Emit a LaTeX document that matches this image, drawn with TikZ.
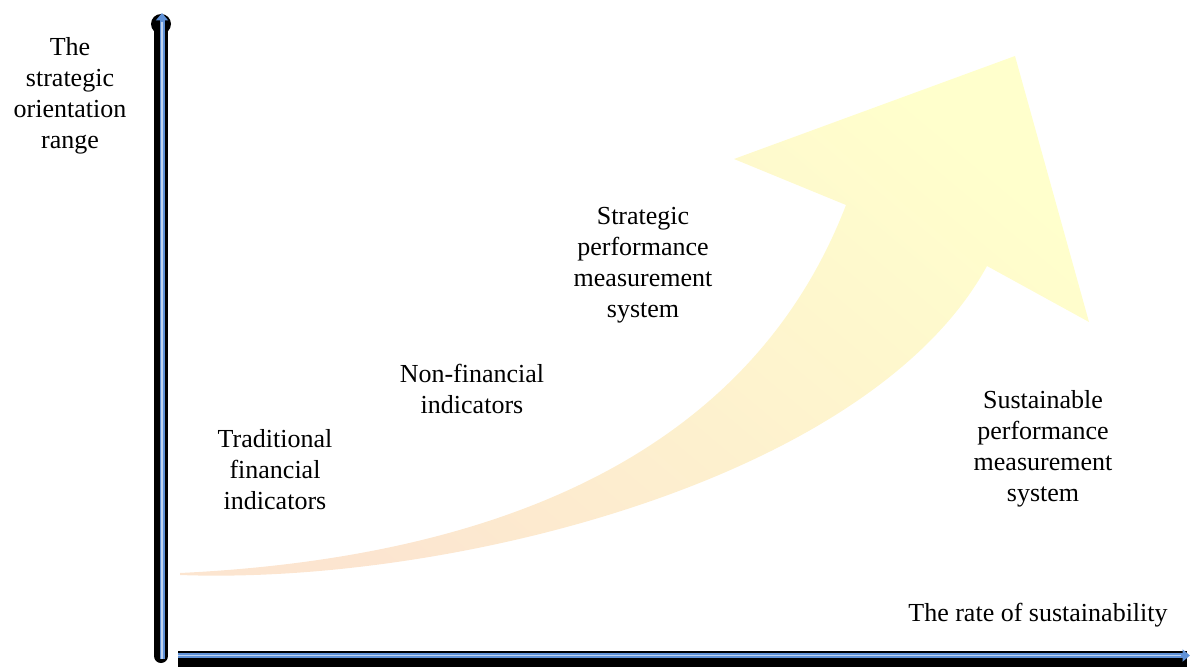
\documentclass[tikz,border=0pt]{standalone}
\usepackage{fontspec}
\setmainfont{Liberation Serif}
\usepackage{tikz}
\usetikzlibrary{arrows.meta}

\definecolor{peach}{RGB}{252,229,208}
\definecolor{paleyellow}{RGB}{255,255,204}
\definecolor{axisblue}{RGB}{95,145,215}

\begin{document}
\begin{tikzpicture}[x=0.02cm,y=-0.02cm,
  lbl/.style={align=center,inner sep=0pt,font=\fontsize{14.8}{17.6}\selectfont},
  shadowline/.style={line width=0.28cm},
  blueline/.style={axisblue,line width=0.1cm},
  tip/.style={-{Triangle[length=0.15cm,width=0.24cm]}},
  glint/.style={white!60!axisblue,line width=0.03cm}]

\useasboundingbox (0,0) rectangle (1190,669);

% the big rising arrow
\shade[bottom color=peach,top color=paleyellow,shading angle=-40]
  (180,573) .. controls (450,560) and (740,480) .. (846,205)
  -- (734,159) -- (1015,56) -- (1089,322) -- (987,266)
  .. controls (870,480) and (450,585) .. (180,575) -- cycle;

% axis points
\coordinate (0) at (161,656);
\coordinate (1) at (161,24);
\coordinate (2) at (162,659);
\coordinate (3) at (162,13);
\coordinate (4) at (178,659);
\coordinate (5) at (1187,659);
\coordinate (6) at (178,655.5);
\coordinate (7) at (1190,655.5);
\coordinate (8) at (162,22);
\coordinate (9) at (1181,655.5);

% vertical axis
\draw[shadowline,line cap=round] (0) -- (1);
\fill (1) circle (10);
\draw[blueline,tip] (2) -- (3);
\draw[glint] (2) -- (8);

% horizontal axis
\draw[line width=0.32cm] (4) -- (5);
\draw[blueline,tip] (6) -- (7);
\draw[glint] (6) -- (9);

% labels
\node[lbl] (10) at (70,96) {The\\strategic\\orientation\\range};
\node[lbl] (11) at (275,470) {Traditional\\financial\\indicators};
\node[lbl] (12) at (472,389) {Non-financial\\indicators};
\node[lbl] (13) at (643,265) {Strategic\\performance\\measurement\\system};
\node[lbl] (14) at (1043,449) {Sustainable\\performance\\measurement\\system};
\node[lbl] (15) at (1038,615) {The rate of sustainability};

\end{tikzpicture}
\end{document}
